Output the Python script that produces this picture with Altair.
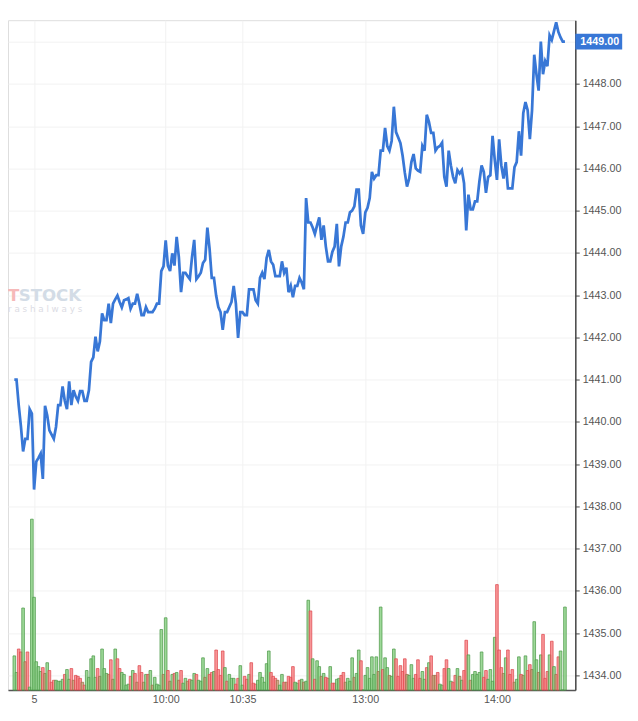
import altair as alt
import pandas as pd

# ---------------- data ----------------
price = [
    1441.0, 1441.0, 1440.4, 1439.9, 1439.3, 1439.6, 1439.6, 1440.3, 1440.2, 1438.4,
    1439.06, 1439.15, 1439.25, 1438.65, 1440.38, 1440.15, 1439.8, 1439.7, 1439.6, 1439.88,
    1440.4, 1440.4, 1440.84, 1440.5, 1440.3, 1440.96, 1440.4, 1440.75, 1440.6, 1440.5,
    1440.73, 1440.73, 1440.5, 1440.5, 1440.75, 1441.42, 1441.53, 1442.02, 1441.67, 1441.9,
    1442.57, 1442.41, 1442.41, 1442.8, 1442.34, 1442.8, 1442.9, 1442.99, 1442.84, 1442.71,
    1442.88, 1442.9, 1442.93, 1442.68, 1442.8, 1442.8, 1443.03, 1442.8, 1442.53, 1442.53,
    1442.72, 1442.6, 1442.6, 1442.6, 1442.68, 1442.8, 1442.8, 1443.57, 1443.68, 1444.3,
    1443.7, 1443.57, 1443.99, 1443.7, 1444.38, 1443.9, 1443.07, 1443.53, 1443.53, 1443.45,
    1443.38, 1443.9, 1444.31, 1443.38, 1443.45, 1443.53, 1443.76, 1443.84, 1444.6, 1444.1,
    1443.41, 1443.41, 1442.99, 1442.72, 1442.6, 1442.18, 1442.6, 1442.6, 1442.72, 1442.84,
    1443.22, 1442.8, 1441.99, 1442.6, 1442.6, 1442.53, 1442.53, 1443.14, 1443.14, 1443.14,
    1442.88, 1442.8, 1443.41, 1443.53, 1443.38, 1443.88, 1444.07, 1443.8, 1443.72, 1443.45,
    1443.45, 1443.45, 1443.8, 1443.53, 1443.65, 1443.07, 1443.22, 1442.95, 1443.22, 1443.22,
    1443.41, 1443.3, 1443.14, 1445.3, 1444.72, 1444.72, 1444.6, 1444.45, 1444.65, 1444.84,
    1444.31, 1444.65, 1444.15, 1443.8, 1443.8, 1444.03, 1444.15, 1444.69, 1443.68, 1444.15,
    1444.38, 1444.72, 1444.72, 1444.96, 1445.0, 1445.1, 1445.5, 1445.5, 1444.65, 1444.45,
    1444.96, 1445.07, 1445.3, 1445.92, 1445.76, 1445.84, 1445.84, 1446.42, 1446.42, 1446.96,
    1446.53, 1446.42, 1446.65, 1447.46, 1446.86, 1446.73, 1446.6, 1446.3, 1445.9, 1445.57,
    1445.76, 1446.15, 1446.34, 1446.0, 1445.95, 1445.92, 1446.53, 1446.42, 1447.27, 1447.1,
    1446.84, 1446.84, 1446.42, 1446.5, 1446.53, 1446.61, 1445.8, 1445.57, 1446.42, 1446.07,
    1445.8, 1445.65, 1445.96, 1445.88, 1445.96, 1445.65, 1444.53, 1445.38, 1445.03, 1445.03,
    1445.22, 1445.22, 1445.69, 1446.07, 1445.92, 1445.42, 1445.8, 1445.84, 1446.77, 1446.2,
    1445.73, 1446.69, 1446.07, 1445.76, 1446.15, 1445.53, 1445.53, 1445.53, 1446.03, 1446.15,
    1446.88, 1446.3, 1447.31, 1447.57, 1447.38, 1446.69, 1447.38, 1448.69, 1448.23, 1447.84,
    1449.0, 1448.23, 1448.54, 1448.42, 1449.15, 1449.04, 1449.25, 1449.46, 1449.23, 1449.1,
    1449.0, 1449.0,
]

volume = [
    35, 18, 42, 39, 84, 29, 39, 3, 175, 95,
    29, 24, 19, 23, 17, 28, 20, 8, 10, 10,
    9, 9, 11, 16, 21, 11, 22, 10, 15, 14,
    12, 8, 5, 20, 13, 32, 35, 13, 22, 14,
    42, 22, 17, 16, 31, 11, 42, 32, 22, 18,
    16, 5, 6, 14, 20, 17, 8, 25, 18, 8,
    16, 16, 20, 5, 13, 6, 5, 62, 16, 74,
    20, 9, 16, 17, 18, 10, 20, 7, 12, 9,
    11, 10, 17, 16, 10, 9, 33, 13, 22, 16,
    18, 19, 41, 21, 15, 40, 23, 9, 16, 12,
    12, 6, 12, 25, 5, 14, 11, 16, 28, 7,
    6, 10, 18, 13, 8, 27, 40, 18, 14, 12,
    10, 5, 16, 8, 8, 14, 13, 24, 8, 7,
    10, 11, 8, 9, 92, 81, 32, 11, 30, 24,
    14, 17, 13, 12, 24, 7, 7, 11, 12, 15,
    18, 8, 12, 9, 33, 13, 17, 41, 30, 0,
    15, 23, 12, 34, 16, 34, 19, 85, 21, 33,
    23, 15, 14, 42, 32, 14, 25, 19, 32, 16,
    15, 26, 12, 16, 31, 12, 19, 11, 23, 28,
    35, 15, 15, 18, 6, 5, 22, 31, 22, 9,
    8, 15, 22, 14, 10, 20, 51, 36, 10, 16,
    19, 16, 18, 39, 13, 20, 11, 21, 9, 54,
    108, 41, 23, 17, 33, 41, 16, 21, 8, 11,
    34, 16, 15, 35, 20, 26, 21, 70, 31, 18,
    36, 57, 12, 19, 36, 50, 24, 16, 34, 40,
    0, 85,
]

# u = up (green), d = down (red), f = flat (brown); ten bars per string
direction_rows = [
    "uuddufduuu", "uuudfudddu", "uuuduudfdd", "dfduuuuudf", "uuufdfuddu",
    "uuududfddf", "udufuuuufu", "dfudufduuf", "duuduuufud", "dudddduduu",
    "udduuddudd", "duuuuuuddd", "fuudfddduu", "dufuududuu", "fuddudduud",
    "dfuuufuudu", "uuuuuufudu", "ufuudddddf", "uuuddduudu", "dffduudduu",
    "ddufuddufu", "uuuudduuuu", "dddfudddfu", "udfuddfuuf", "udddudufdu",
    "uu",
]
direction = list("".join(direction_rows))

tick_idx = [9, 69, 104, 160, 220]
tick_lbl = ["5", "10:00", "10:35", "13:00", "14:00"]
price_ticks = list(range(1434, 1450))
last_price = 1449.00
brand_a, brand_b, brand_sub = "T", "STOCK", "r a s h  a l w a y s"

n = len(price)
df = pd.DataFrame({"i": list(range(n)), "price": price, "vol": volume, "dir": direction})
tag_df = pd.DataFrame({"price": [last_price], "label": [f"{last_price:.2f}"]})

# ---------------- layout ----------------
W, H = 581, 686
FONT = "Liberation Sans"
BLUE = "#3877d6"

xs = alt.Scale(domain=[-0.656, 253.5], nice=False, zero=False)
ys = alt.Scale(domain=[1433.654, 1449.508], nice=False, zero=False)
vs = alt.Scale(domain=[0, H], nice=False, zero=True)

label_expr = ""
for v, l in zip(tick_idx, tick_lbl):
    label_expr += f"datum.value == {v} ? '{l}' : "
label_expr += "''"

x_axis = alt.Axis(
    values=tick_idx, labelExpr=label_expr, title=None, grid=True,
    gridColor="#f2f2f2", gridWidth=1, ticks=False, domainColor="#555555",
    domainWidth=1.5, labelColor="#555555", labelFontSize=11, labelFont=FONT,
    labelPadding=4, labelFlush=False, labelOverlap=False,
)
y_axis = alt.Axis(
    orient="right", values=price_ticks, format=".2f", title=None, grid=True,
    labelExpr=f"datum.value == {int(last_price)} ? '' : datum.label",
    gridColor="#f2f2f2", gridWidth=1, tickSize=4, tickColor="#444444",
    domainColor="#444444", domainWidth=1.5, labelColor="#555555",
    labelFontSize=11, labelFont=FONT, labelPadding=3,
)

dir_dom = ["u", "d", "f"]
bars = alt.Chart(df).mark_bar(width=2.7, strokeWidth=0.8, fillOpacity=0.8, strokeOpacity=0.95).encode(
    x=alt.X("i:Q", scale=xs, axis=x_axis),
    y=alt.Y("vol:Q", scale=vs, axis=None),
    fill=alt.Fill("dir:N", scale=alt.Scale(domain=dir_dom, range=["#86cf80", "#f77c7e", "#c29a70"]), legend=None),
    stroke=alt.Stroke("dir:N", scale=alt.Scale(domain=dir_dom, range=["#4f9a4a", "#de4a50", "#9a7048"]), legend=None),
)

wm_a = alt.Chart(tag_df).mark_text(
    text=brand_a, font="DejaVu Sans", fontWeight="bold", fontSize=17, color="#f6b9b9",
    align="left", baseline="middle",
).encode(x=alt.value(0), y=alt.value(283))
wm_b = alt.Chart(tag_df).mark_text(
    text=brand_b, font="DejaVu Sans", fontWeight="bold", fontSize=17, color="#d3dce6",
    align="left", baseline="middle",
).encode(x=alt.value(11), y=alt.value(283))
wm_c = alt.Chart(tag_df).mark_text(
    text=brand_sub, font="DejaVu Sans", fontSize=9, color="#dcdce4",
    align="left", baseline="middle",
).encode(x=alt.value(0), y=alt.value(296))

line = alt.Chart(df).mark_line(color=BLUE, strokeWidth=2.8, strokeJoin="miter").encode(
    x=alt.X("i:Q", scale=xs),
    y=alt.Y("price:Q", scale=ys, axis=y_axis),
)

tag_rule = alt.Chart(tag_df).mark_rule(color=BLUE, strokeWidth=16, strokeCap="butt").encode(
    x=alt.value(W), x2=alt.value(W + 48),
    y=alt.Y("price:Q", scale=ys, axis=None),
)
tag_text = alt.Chart(tag_df).mark_text(
    color="white", fontWeight="bold", fontSize=11, font=FONT, align="center", baseline="middle",
).encode(
    x=alt.value(W + 25),
    y=alt.Y("price:Q", scale=ys, axis=None),
    text="label:N",
)

chart = (
    alt.layer(bars, wm_a, wm_b, wm_c, line, tag_rule, tag_text)
    .resolve_scale(y="independent")
    .properties(width=W, height=H, padding={"left": 0, "top": 0, "right": 0, "bottom": 0})
    .configure_view(stroke=None)
    .configure(background="white")
)

chart.save("out.html", embed_options={"renderer": "svg", "actions": False})
